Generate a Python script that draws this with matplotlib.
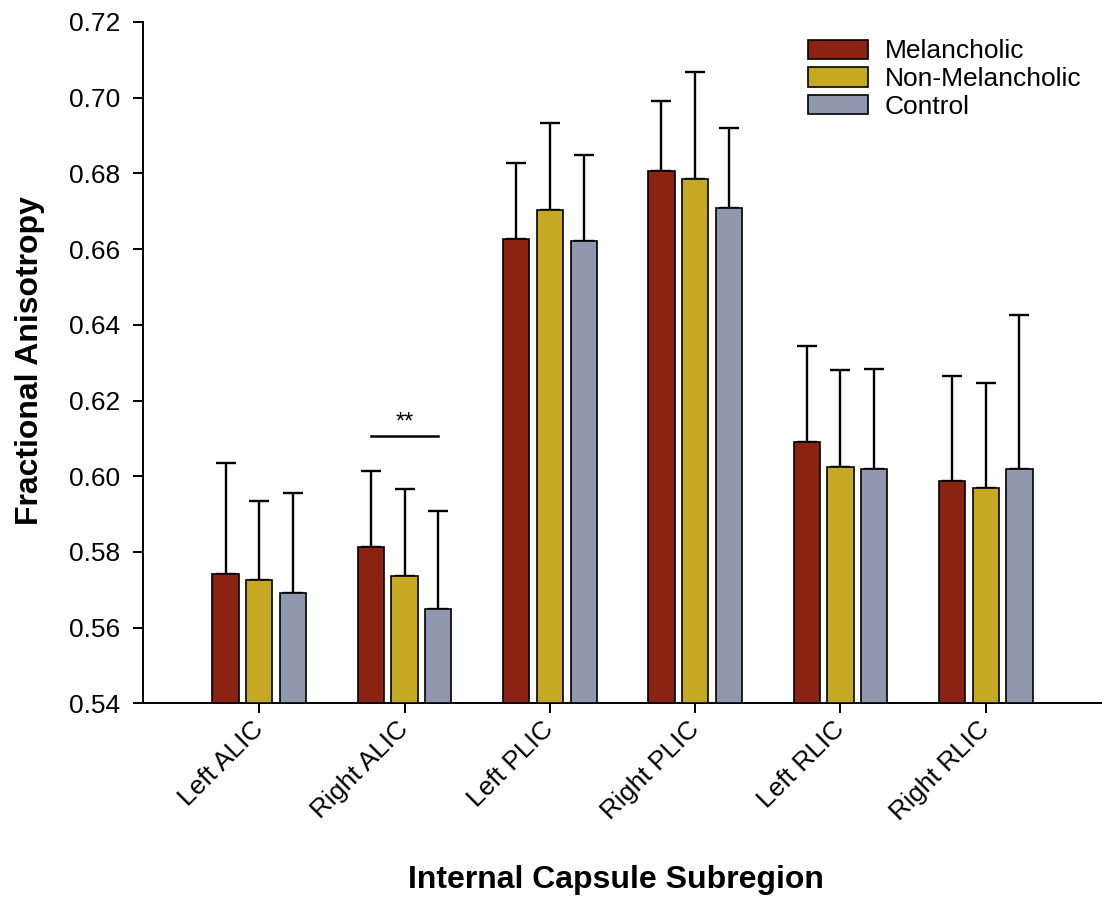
import numpy as np
import matplotlib.pyplot as plt

plt.rcParams['font.family'] = ['Liberation Sans', 'DejaVu Sans']

# ---------------------------
# data
# ---------------------------
regions = ['Left ALIC', 'Right ALIC', 'Left PLIC', 'Right PLIC', 'Left RLIC', 'Right RLIC']
groups = ['Melancholic', 'Non-Melancholic', 'Control']

mel_mean = [0.5742, 0.5812, 0.6627, 0.6806, 0.6091, 0.5987]
mel_sd = [0.0293, 0.0201, 0.0201, 0.0185, 0.0254, 0.0279]
nonmel_mean = [0.5727, 0.5737, 0.6702, 0.6785, 0.6024, 0.5970]
nonmel_sd = [0.0207, 0.0228, 0.0232, 0.0283, 0.0256, 0.0277]
ctrl_mean = [0.5692, 0.5650, 0.6622, 0.6708, 0.6019, 0.6019]
ctrl_sd = [0.0263, 0.0257, 0.0227, 0.0213, 0.0264, 0.0408]

sig_y = 0.6106
sig_label = '**'

colors = ['#8B2312', '#C6A923', '#8F98AF']

# ---------------------------
# figure
# ---------------------------
fig = plt.figure(figsize=(11.02, 8.97), dpi=100)
ax = fig.add_axes([0.1298, 0.2159, 0.8702, 0.7596])

x = np.arange(len(regions))
step = 0.232
width = 0.18
means = [mel_mean, nonmel_mean, ctrl_mean]
sds = [mel_sd, nonmel_sd, ctrl_sd]
for k in range(3):
    xs = x + (k - 1) * step
    m = np.array(means[k]); s = np.array(sds[k])
    ax.bar(xs, m - 0.54, bottom=0.54, width=width, color=colors[k],
           edgecolor='black', linewidth=1.2, label=groups[k], zorder=3)
    ax.errorbar(xs, m, yerr=[np.zeros_like(s), s], fmt='none', ecolor='black',
                elinewidth=1.7, capsize=7.5, capthick=1.7, zorder=2)

# significance bar over Right ALIC
ax.plot([x[1] - step, x[1] + step], [sig_y, sig_y], color='black', lw=1.8, zorder=4)
ax.text(x[1], sig_y + 0.0008, sig_label, ha='center', va='bottom', fontsize=17)

ax.set_xlim(-0.8, 5.8)
ax.set_ylim(0.54, 0.72)
ax.set_yticks(np.arange(0.54, 0.7201, 0.02))
ax.set_yticklabels([f'{v:.2f}' for v in np.arange(0.54, 0.7201, 0.02)])
ax.set_xticks(x)
ax.set_xticklabels(regions, rotation=45, ha='right', va='center',
                   rotation_mode='anchor', fontsize=19)

for side in ('top', 'right'):
    ax.spines[side].set_visible(False)
for side in ('left', 'bottom'):
    ax.spines[side].set_linewidth(1.4)
ax.tick_params(axis='both', direction='out', length=7.2, width=1.4, labelsize=19)
ax.tick_params(axis='x', pad=9, labelsize=19)
ax.tick_params(axis='y', pad=9)

fig.text(0.0272, 0.5975, 'Fractional Anisotropy', rotation=90, ha='center', va='center',
         fontsize=23, fontweight='bold')
fig.text(0.559, 0.019, 'Internal Capsule Subregion', ha='center', va='center',
         fontsize=23, fontweight='bold')

ax.legend(loc='upper left', bbox_to_anchor=(0.733, 0.956), bbox_transform=fig.transFigure,
          frameon=False, fontsize=19, handlelength=2.27, handleheight=0.76,
          labelspacing=0.14, handletextpad=0.64, borderpad=0, borderaxespad=0)

fig.savefig('out.png', dpi=100)
